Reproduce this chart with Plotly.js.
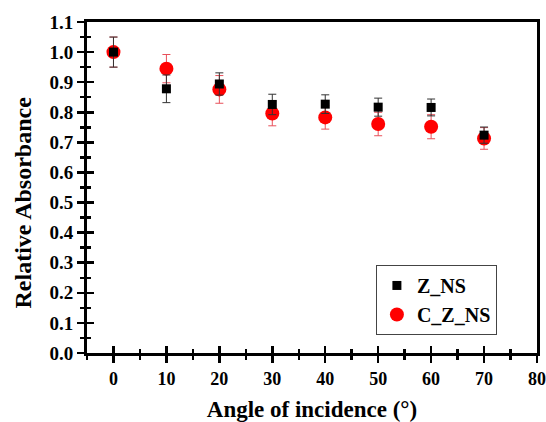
<!DOCTYPE html>
<html>
<head>
<meta charset="utf-8">
<script src="https://cdn.plot.ly/plotly-3.0.1.min.js"></script>
<style>html,body{margin:0;padding:0;background:#fff;}#chart{width:546px;height:422px;}</style>
</head>
<body>
<div id="chart"></div>
<script>
const angles = [0, 10, 20, 30, 40, 50, 60, 70];
const zns = [1.0, 0.878, 0.894, 0.826, 0.827, 0.817, 0.816, 0.724];
const znsErr = [0.05, 0.046, 0.037, 0.034, 0.031, 0.03, 0.028, 0.027];
const czns = [1.0, 0.945, 0.876, 0.796, 0.783, 0.761, 0.752, 0.713];
const cznsErr = [0.05, 0.047, 0.046, 0.041, 0.039, 0.039, 0.04, 0.036];
const xTicks = [0, 10, 20, 30, 40, 50, 60, 70, 80];
const yTicks = [0, 0.1, 0.2, 0.3, 0.4, 0.5, 0.6, 0.7, 0.8, 0.9, 1.0, 1.1];
const xTitle = 'Angle of incidence (°)';
const yTitle = 'Relative Absorbance';

const font = {family: 'Liberation Serif, Times New Roman, serif', color: '#000'};

const traces = [
  {
    x: angles, y: czns, name: 'C_Z_NS', type: 'scatter', mode: 'markers',
    marker: {symbol: 'circle', size: 14, color: '#ff0000'},
    error_y: {type: 'data', array: cznsErr, visible: true, color: '#e8505a', thickness: 1, width: 4},
    legendrank: 2
  },
  {
    x: angles, y: zns, name: 'Z_NS', type: 'scatter', mode: 'markers',
    marker: {symbol: 'square', size: 9, color: '#000000'},
    error_y: {type: 'data', array: znsErr, visible: true, color: '#333333', thickness: 1, width: 4},
    legendrank: 1
  },
  {x: [null], y: [null], xaxis: 'x2', yaxis: 'y2', showlegend: false, hoverinfo: 'skip'}
];

const xRange = [-5, 80];
const yRange = [0, 1.1];

const layout = {
  width: 546, height: 422,
  margin: {l: 87, r: 9, t: 22, b: 69},
  paper_bgcolor: '#fff', plot_bgcolor: '#fff',
  font: Object.assign({size: 15}, font),
  showlegend: true,
  legend: {
    x: 0.642, y: 0.266, xanchor: 'left', yanchor: 'top',
    bordercolor: '#444', borderwidth: 1, bgcolor: '#fff',
    font: Object.assign({size: 20, weight: 'bold'}, font),
    tracegroupgap: 0, itemwidth: 30
  },
  annotations: [{
    text: yTitle, xref: 'paper', yref: 'paper', x: -0.142, y: 0.455,
    xanchor: 'center', yanchor: 'middle', textangle: -90, showarrow: false,
    font: Object.assign({size: 24, weight: 'bold'}, font)
  }],
  xaxis: {
    range: xRange, tickmode: 'array', tickvals: xTicks, ticktext: xTicks.map(String),
    ticks: 'outside', ticklen: 7, tickwidth: 2.5, tickcolor: '#000',
    minor: {tickmode: 'linear', tick0: 5, dtick: 10, ticks: 'outside', ticklen: 4, tickwidth: 2.5, tickcolor: '#000'},
    showline: true, linewidth: 3, linecolor: '#000', mirror: true,
    showgrid: false, zeroline: false,
    tickfont: Object.assign({size: 18, weight: 'bold'}, font),
    title: {text: xTitle, font: Object.assign({size: 23, weight: 'bold'}, font), standoff: 16}
  },
  yaxis: {
    range: yRange, tickmode: 'array', tickvals: yTicks, ticktext: yTicks.map(v => v.toFixed(1)),
    ticks: 'outside', ticklen: 7, tickwidth: 2.5, tickcolor: '#000',
    minor: {tickmode: 'linear', tick0: 0.05, dtick: 0.1, ticks: 'outside', ticklen: 4, tickwidth: 2.5, tickcolor: '#000'},
    showline: true, linewidth: 3, linecolor: '#000', mirror: true,
    showgrid: false, zeroline: false,
    tickfont: Object.assign({size: 19, weight: 'bold'}, font)
  },
  xaxis2: {
    overlaying: 'x', side: 'bottom', anchor: 'y2', range: xRange,
    tickmode: 'array', tickvals: xTicks, showticklabels: false,
    ticks: 'inside', ticklen: 7, tickwidth: 2.5, tickcolor: '#000',
    minor: {tickmode: 'linear', tick0: 5, dtick: 10, ticks: 'inside', ticklen: 4, tickwidth: 2.5, tickcolor: '#000'},
    showgrid: false, zeroline: false, showline: false
  },
  yaxis2: {
    overlaying: 'y', side: 'left', anchor: 'x2', range: yRange,
    tickmode: 'array', tickvals: yTicks, showticklabels: false,
    ticks: 'inside', ticklen: 7, tickwidth: 2.5, tickcolor: '#000',
    minor: {tickmode: 'linear', tick0: 0.05, dtick: 0.1, ticks: 'inside', ticklen: 4, tickwidth: 2.5, tickcolor: '#000'},
    showgrid: false, zeroline: false, showline: false
  }
};

Plotly.newPlot('chart', traces, layout, {displayModeBar: false, staticPlot: true});
</script>
</body>
</html>
